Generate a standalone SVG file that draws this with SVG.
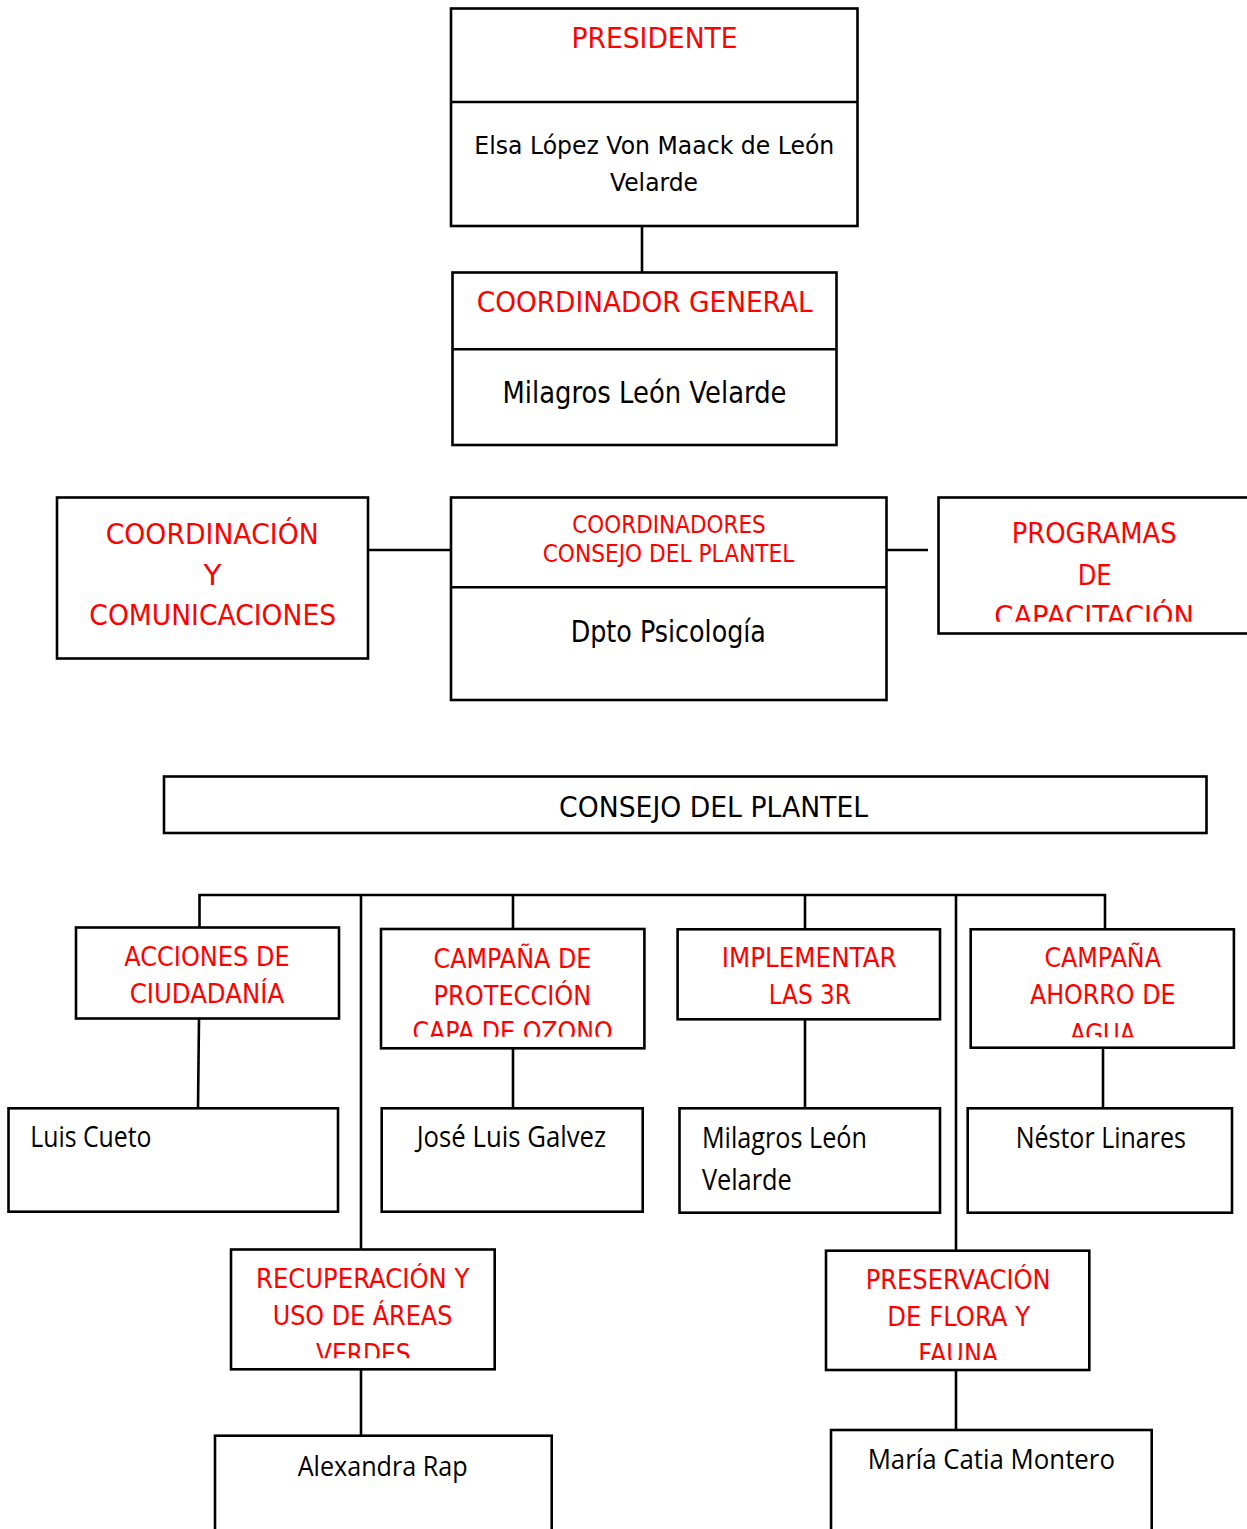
<svg xmlns="http://www.w3.org/2000/svg" width="1247" height="1529" viewBox="0 0 1247 1529">
<style>
  .box { fill: #ffffff; stroke: #000000; stroke-width: 2.6; }
  .div { stroke: #000000; stroke-width: 2.6; fill: none; }
  .con { stroke: #000000; stroke-width: 2.6; fill: none; }
  .red { fill: #ff0000; font-family: "DejaVu Sans", "Liberation Sans", sans-serif; }
  .blk { fill: #000000; font-family: "DejaVu Sans", "Liberation Sans", sans-serif; }
  .nm { fill: #000000; font-family: "Open Sans", "Noto Sans", sans-serif; }
  .c { text-anchor: middle; }
</style>
<defs>
  <clipPath id="clipProg"><rect x="938" y="497" width="320" height="124.7"/></clipPath>
  <clipPath id="clipOzono"><rect x="381" y="929" width="263" height="107.7"/></clipPath>
  <clipPath id="clipAgua"><rect x="971" y="929" width="263" height="108.3"/></clipPath>
  <clipPath id="clipVerdes"><rect x="231" y="1249" width="264" height="109.3"/></clipPath>
  <clipPath id="clipFauna"><rect x="826" y="1251" width="263" height="109"/></clipPath>
</defs>

<g id="connectors">
  <path class="con" d="M642,226 V272"/>
  <path class="con" d="M368,550 H451"/>
  <path class="con" d="M886,550 H928"/>
  <path class="con" d="M199.5,927 V895 H1105 V929"/>
  <path class="con" d="M361,895 V1250"/>
  <path class="con" d="M513,895 V929"/>
  <path class="con" d="M805,895 V929"/>
  <path class="con" d="M956,895 V1251"/>
  <path class="con" d="M199,1018 L198,1108"/>
  <path class="con" d="M513,1048 V1108"/>
  <path class="con" d="M805,1019 V1108"/>
  <path class="con" d="M1103,1048 V1108"/>
  <path class="con" d="M361,1369 V1436"/>
  <path class="con" d="M956,1370 V1430"/>
</g>

<g id="presidente">
  <rect class="box" x="451" y="8.5" width="406.5" height="217.5"/>
  <line class="div" x1="451" y1="102" x2="857.5" y2="102"/>
  <text class="red c" x="654.5" y="47.7" font-size="29" textLength="166" lengthAdjust="spacingAndGlyphs">PRESIDENTE</text>
  <text class="blk c" x="654.3" y="154" font-size="24" textLength="360" lengthAdjust="spacingAndGlyphs">Elsa López Von Maack de León</text>
  <text class="blk c" x="654" y="190.7" font-size="24" textLength="88" lengthAdjust="spacingAndGlyphs">Velarde</text>
</g>

<g id="coordinador-general">
  <rect class="box" x="452.5" y="272.5" width="384" height="172.5"/>
  <line class="div" x1="452.5" y1="349.3" x2="836.5" y2="349.3"/>
  <text class="red c" x="644.7" y="311.7" font-size="29" textLength="336" lengthAdjust="spacingAndGlyphs">COORDINADOR GENERAL</text>
  <text class="blk c" x="644.5" y="403.3" font-size="30" textLength="284" lengthAdjust="spacingAndGlyphs">Milagros León Velarde</text>
</g>

<g id="coordinacion-comunicaciones">
  <rect class="box" x="57" y="497.5" width="311" height="161"/>
  <text class="red c" x="212.2" y="544" font-size="29" textLength="213" lengthAdjust="spacingAndGlyphs">COORDINACIÓN</text>
  <text class="red c" x="212.5" y="585.3" font-size="29" textLength="18" lengthAdjust="spacingAndGlyphs">Y</text>
  <text class="red c" x="212.7" y="625.3" font-size="29" textLength="246.7" lengthAdjust="spacingAndGlyphs">COMUNICACIONES</text>
</g>

<g id="coordinadores-consejo">
  <rect class="box" x="451" y="497.5" width="435.5" height="202.5"/>
  <line class="div" x1="451" y1="587.3" x2="886.5" y2="587.3"/>
  <text class="red c" x="669" y="533.3" font-size="25" textLength="193.3" lengthAdjust="spacingAndGlyphs">COORDINADORES</text>
  <text class="red c" x="668.5" y="562" font-size="25" textLength="251.7" lengthAdjust="spacingAndGlyphs">CONSEJO DEL PLANTEL</text>
  <text class="blk c" x="668.3" y="642.3" font-size="30" textLength="195.3" lengthAdjust="spacingAndGlyphs">Dpto Psicología</text>
</g>

<g id="programas-capacitacion">
  <rect class="box" x="938.5" y="497.5" width="320" height="136"/>
  <text class="red c" x="1094.2" y="543.3" font-size="29" textLength="165" lengthAdjust="spacingAndGlyphs">PROGRAMAS</text>
  <text class="red c" x="1094.7" y="585.3" font-size="29" textLength="34" lengthAdjust="spacingAndGlyphs">DE</text>
  <g clip-path="url(#clipProg)">
    <text class="red c" x="1094.2" y="626.3" font-size="29" textLength="199.7" lengthAdjust="spacingAndGlyphs">CAPACITACIÓN</text>
  </g>
</g>

<g id="consejo-plantel">
  <rect class="box" x="164" y="776.5" width="1042.5" height="56.5"/>
  <text class="blk c" x="713.6" y="817.3" font-size="28" textLength="309" lengthAdjust="spacingAndGlyphs">CONSEJO DEL PLANTEL</text>
</g>

<g id="acciones-ciudadania">
  <rect class="box" x="76" y="927.5" width="263" height="91"/>
  <text class="red c" x="206.9" y="966" font-size="26.5" textLength="165.4" lengthAdjust="spacingAndGlyphs">ACCIONES DE</text>
  <text class="red c" x="206.9" y="1003.3" font-size="26.5" textLength="154.5" lengthAdjust="spacingAndGlyphs">CIUDADANÍA</text>
</g>

<g id="campana-ozono">
  <rect class="box" x="381" y="929" width="263.4" height="119.3"/>
  <text class="red c" x="512.4" y="967.7" font-size="26.5" textLength="157.8" lengthAdjust="spacingAndGlyphs">CAMPAÑA DE</text>
  <text class="red c" x="512.4" y="1005" font-size="26.5" textLength="157.8" lengthAdjust="spacingAndGlyphs">PROTECCIÓN</text>
  <g clip-path="url(#clipOzono)">
    <text class="red c" x="512.6" y="1041.3" font-size="26.5" textLength="200.3" lengthAdjust="spacingAndGlyphs">CAPA DE OZONO</text>
  </g>
</g>

<g id="implementar-3r">
  <rect class="box" x="677.6" y="929.3" width="262.4" height="90"/>
  <text class="red c" x="809.2" y="967.3" font-size="26.5" textLength="174.8" lengthAdjust="spacingAndGlyphs">IMPLEMENTAR</text>
  <text class="red c" x="809.8" y="1004" font-size="26.5" textLength="82.3" lengthAdjust="spacingAndGlyphs">LAS 3R</text>
</g>

<g id="campana-agua">
  <rect class="box" x="970.7" y="929.3" width="263.2" height="118.4"/>
  <text class="red c" x="1102.7" y="967" font-size="26.5" textLength="116.4" lengthAdjust="spacingAndGlyphs">CAMPAÑA</text>
  <text class="red c" x="1102.7" y="1004" font-size="26.5" textLength="145.6" lengthAdjust="spacingAndGlyphs">AHORRO DE</text>
  <g clip-path="url(#clipAgua)">
    <text class="red c" x="1102.7" y="1042.6" font-size="26.5" textLength="65.5" lengthAdjust="spacingAndGlyphs">AGUA</text>
  </g>
</g>

<g id="luis-cueto">
  <rect class="box" x="8.5" y="1108.3" width="329.5" height="103.4"/>
  <text class="nm" x="30.3" y="1147.3" font-size="29" textLength="121.2" lengthAdjust="spacingAndGlyphs">Luis Cueto</text>
</g>

<g id="jose-luis-galvez">
  <rect class="box" x="381.7" y="1108.3" width="261" height="103.4"/>
  <text class="nm c" x="511.4" y="1147.3" font-size="29" textLength="189.4" lengthAdjust="spacingAndGlyphs">José Luis Galvez</text>
</g>

<g id="milagros-leon">
  <rect class="box" x="679.5" y="1108.3" width="260.5" height="104.4"/>
  <text class="nm" x="701.9" y="1148" font-size="29" textLength="165.1" lengthAdjust="spacingAndGlyphs">Milagros León</text>
  <text class="nm" x="701.9" y="1190" font-size="29" textLength="89.9" lengthAdjust="spacingAndGlyphs">Velarde</text>
</g>

<g id="nestor-linares">
  <rect class="box" x="967.7" y="1108.3" width="264.3" height="104.4"/>
  <text class="nm c" x="1100.8" y="1148" font-size="29" textLength="170.3" lengthAdjust="spacingAndGlyphs">Néstor Linares</text>
</g>

<g id="recuperacion-areas-verdes">
  <rect class="box" x="231" y="1249.5" width="263.7" height="119.8"/>
  <text class="red c" x="362.7" y="1288.3" font-size="26.5" textLength="213.3" lengthAdjust="spacingAndGlyphs">RECUPERACIÓN Y</text>
  <text class="red c" x="362.5" y="1325" font-size="26.5" textLength="179.6" lengthAdjust="spacingAndGlyphs">USO DE ÁREAS</text>
  <g clip-path="url(#clipVerdes)">
    <text class="red c" x="363.3" y="1362.6" font-size="26.5" textLength="94.7" lengthAdjust="spacingAndGlyphs">VERDES</text>
  </g>
</g>

<g id="preservacion-flora-fauna">
  <rect class="box" x="826" y="1250.7" width="263.3" height="119.3"/>
  <text class="red c" x="958.2" y="1289" font-size="26.5" textLength="185" lengthAdjust="spacingAndGlyphs">PRESERVACIÓN</text>
  <text class="red c" x="958.7" y="1326" font-size="26.5" textLength="142.7" lengthAdjust="spacingAndGlyphs">DE FLORA Y</text>
  <g clip-path="url(#clipFauna)">
    <text class="red c" x="958.3" y="1363.3" font-size="26.5" textLength="80" lengthAdjust="spacingAndGlyphs">FAUNA</text>
  </g>
</g>

<g id="alexandra-rap">
  <rect class="box" x="215" y="1435.7" width="336.7" height="110"/>
  <text class="nm c" x="382.7" y="1475.7" font-size="27" textLength="170" lengthAdjust="spacingAndGlyphs">Alexandra Rap</text>
</g>

<g id="maria-catia-montero">
  <rect class="box" x="831" y="1430" width="320.7" height="115"/>
  <text class="nm c" x="991.3" y="1469" font-size="27" textLength="247.3" lengthAdjust="spacingAndGlyphs">María Catia Montero</text>
</g>
</svg>
